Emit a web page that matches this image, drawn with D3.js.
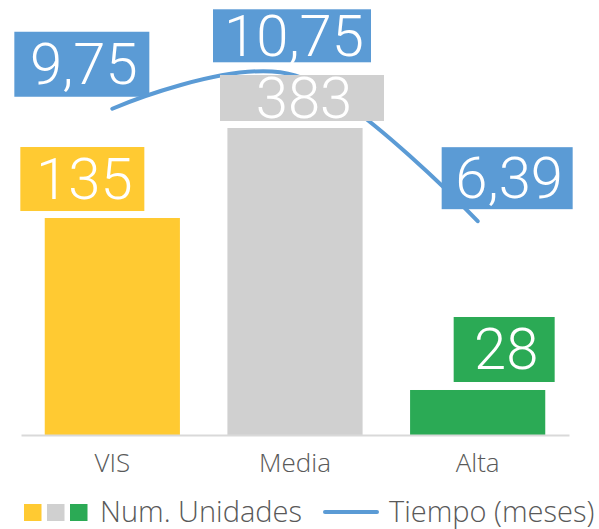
<!DOCTYPE html>
<html><head><meta charset="utf-8">
<script src="https://cdn.jsdelivr.net/npm/d3@7"></script>
<style>
body{margin:0;background:#fff}
svg{display:block}
text{font-family:Roboto,"Helvetica Neue",Arial,sans-serif;font-weight:300}
.small{font-family:"Open Sans",Roboto,Arial,sans-serif;font-weight:300}
</style>
</head><body><svg id="c" width="599" height="529"></svg>
<script>
// ---- data ----
const categories = ["VIS", "Media", "Alta"];
const unidades = [135, 383, 28];
const tiempo = [9.75, 10.75, 6.39];
const unidadesLabels = ["135", "383", "28"];
const tiempoLabels = ["9,75", "10,75", "6,39"];
const legendNames = ["Num. Unidades", "Tiempo (meses)"];

// ---- styles / layout ----
const barColors = ["#FFCA32", "#D0D0D0", "#2BAA55"];
const lineColor = "#5B9BD5";
const barLabelLayout = [
  {dx: -30, dy: -39, w: 124, h: 64},
  {dx: 7, dy: -30, w: 164, h: 46},
  {dx: 26.5, dy: -40.5, w: 101, h: 65}
];
const lineLabelLayout = [
  {dx: -30.5, dy: -44.5, w: 135, h: 65},
  {dx: -3, dy: -39.5, w: 158, h: 53},
  {dx: 29.5, dy: -43, w: 131, h: 62}
];

const svg = d3.select("#c");
const baseY = 435;

const x = d3.scaleBand().domain(categories).range([21, 569]).paddingInner(0.26).paddingOuter(0.13);
const yBar = d3.scaleLinear().domain([0, 191]).range([baseY, 128]).clamp(true);
const yLine = d3.scaleLinear().domain([0, 13]).range([baseY, 0]);

// bars
svg.append("g").selectAll("rect").data(unidades).join("rect")
  .attr("x", (d, i) => x(categories[i]))
  .attr("width", x.bandwidth())
  .attr("y", d => yBar(d))
  .attr("height", d => baseY - yBar(d))
  .attr("fill", (d, i) => barColors[i]);

// axis
const axis = svg.append("g").attr("transform", `translate(0,${baseY})`)
  .call(d3.axisBottom(x).tickSize(0).tickPadding(0));
axis.select(".domain").attr("stroke", "#D9D9D9").attr("stroke-width", 2);
axis.selectAll(".tick text").attr("dy", null).attr("y", 37)
  .attr("class", "small").attr("font-size", 26).attr("fill", "#595959");
axis.attr("font-family", null).attr("font-size", null);

// line
const cx = (i) => x(categories[i]) + x.bandwidth() / 2;
const line = d3.line().x((d, i) => cx(i)).y(d => yLine(d)).curve(d3.curveCardinal.tension(0));
svg.append("path").datum(tiempo).attr("d", line)
  .attr("fill", "none").attr("stroke", lineColor).attr("stroke-width", 4)
  .attr("stroke-linecap", "round").attr("stroke-linejoin", "round");

// labels
function drawLabels(values, labels, layout, yScale, colorFn) {
  const g = svg.append("g").selectAll("g").data(values).join("g")
    .attr("transform", (d, i) => {
      const L = layout[i];
      return `translate(${cx(i) + L.dx},${yScale(d) + L.dy})`;
    });
  g.append("rect")
    .attr("x", (d, i) => -layout[i].w / 2).attr("y", (d, i) => -layout[i].h / 2)
    .attr("width", (d, i) => layout[i].w).attr("height", (d, i) => layout[i].h)
    .attr("fill", (d, i) => colorFn(i));
  g.append("text").text((d, i) => labels[i])
    .attr("text-anchor", "middle").attr("x", 2).attr("y", 20)
    .attr("font-size", 58).attr("fill", "#fff");
}
drawLabels(unidades, unidadesLabels, barLabelLayout, yBar, i => barColors[i]);
drawLabels(tiempo, tiempoLabels, lineLabelLayout, yLine, () => lineColor);

// legend
const lg = svg.append("g");
barColors.forEach((c, i) => {
  lg.append("rect").attr("x", 24 + i * 23).attr("y", 504).attr("width", 17.5).attr("height", 17).attr("fill", c);
});
lg.append("text").text(legendNames[0]).attr("class", "small").attr("x", 100).attr("y", 522)
  .attr("font-size", 29).attr("fill", "#595959");
lg.append("line").attr("x1", 325).attr("x2", 377).attr("y1", 512).attr("y2", 512)
  .attr("stroke", lineColor).attr("stroke-width", 4).attr("stroke-linecap", "round");
lg.append("text").text(legendNames[1]).attr("class", "small").attr("x", 389).attr("y", 522)
  .attr("font-size", 29).attr("fill", "#595959");
</script>
</body></html>
